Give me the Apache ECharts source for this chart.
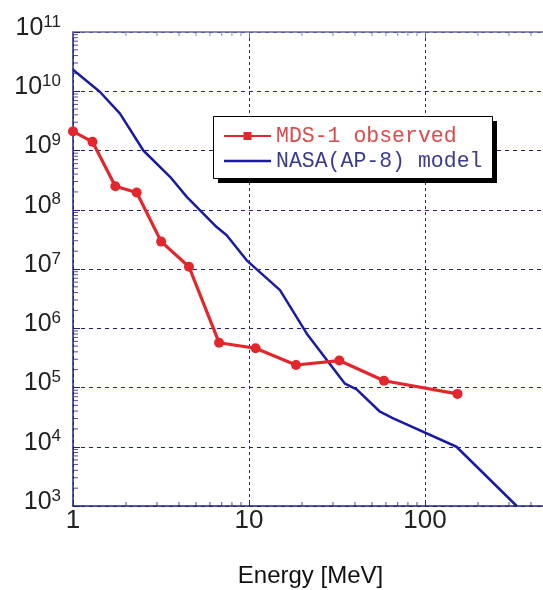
<!DOCTYPE html>
<html>
<head>
<meta charset="utf-8">
<script src="https://cdn.jsdelivr.net/npm/echarts@6/dist/echarts.min.js"></script>
<style>
  html, body { margin: 0; padding: 0; background: #fff; }
  #chart { width: 543px; height: 590px; }
</style>
</head>
<body>
<div id="chart"></div>
<script>
// MDS-1 observed spectrum
const mdsEnergy = [1, 1.29, 1.74, 2.3, 3.17, 4.56, 6.76, 10.9, 18.5, 32.6, 58.5, 153];
const mdsFlux = [2.1e9, 1.4e9, 2.5e8, 1.96e8, 2.9e7, 1.09e7, 5.7e5, 4.6e5, 2.4e5, 2.85e5, 1.3e5, 7.8e4];

// NASA AP-8 model
const apEnergy = [1, 1.42, 1.85, 2.51, 3.56, 4.43, 6.55, 7.47, 9.7, 15, 21.3, 35.1, 40.9, 55.5, 66, 151, 332];
const apFlux = [2.3e10, 9.8e9, 4.2e9, 1.0e9, 3.6e8, 1.65e8, 5.1e7, 3.7e7, 1.4e7, 4.4e6, 8.1e5, 1.16e5, 9.3e4, 3.9e4, 3.0e4, 1.0e4, 1.0e3];

// axis decoration
const xDecades = [1, 10, 100];
const yDecades = [1e3, 1e4, 1e5, 1e6, 1e7, 1e8, 1e9, 1e10];
const minorSteps = [2, 3, 4, 5, 6, 7, 8, 9];

const navy = '#22227f';
const red = '#e3262b';
const blue = '#1a1aa6';

let yMinor = [], xMinor = [], xMinorTop = [];
yDecades.forEach(d => minorSteps.forEach(k => yMinor.push([1, k * d])));
xDecades.forEach(d => minorSteps.forEach(k => {
  if (k * d < 500) {
    xMinor.push([k * d, 1e3]);
    xMinorTop.push([k * d, 1e11]);
  }
}));

let client = document.getElementById('chart');
let myChart = echarts.init(client);

let option = {
  backgroundColor: '#fff',
  animation: false,
  grid: { left: 73, top: 32, width: 475, height: 474, outerBoundsMode: 'none', containLabel: false },
  // legend frame with hard drop shadow
  graphic: [{
    type: 'rect',
    left: 218,
    top: 121,
    z: 8,
    shape: { width: 279, height: 62 },
    style: { fill: '#000' }
  }, {
    type: 'rect',
    left: 213,
    top: 116,
    z: 8,
    shape: { width: 279, height: 62 },
    style: { fill: '#fff', stroke: '#000', lineWidth: 1 }
  }],
  legend: {
    orient: 'vertical',
    left: 213,
    top: 116,
    z: 10,
    padding: [9, 14, 9, 10],
    itemGap: 3,
    itemWidth: 47,
    itemHeight: 10,
    selectedMode: false,
    textStyle: { fontFamily: 'Liberation Mono', fontSize: 21.5 },
    data: [
      { name: 'MDS-1 observed', textStyle: { color: '#e0484b' } },
      { name: 'NASA(AP-8) model', icon: 'path://M0,0 L47,0 L47,2.5 L0,2.5 Z', textStyle: { color: '#3b3b8f' } }
    ]
  },
  xAxis: [{
    type: 'log',
    logBase: 10,
    min: 1,
    max: 500,
    name: 'Energy [MeV]',
    nameLocation: 'middle',
    nameGap: 58,
    nameTextStyle: { fontFamily: 'Liberation Sans', fontSize: 24, color: '#111' },
    axisLine: { lineStyle: { color: navy, width: 1.5 } },
    axisTick: { inside: true, length: 6, lineStyle: { color: navy } },
    axisLabel: {
      margin: 2,
      fontFamily: 'Liberation Sans',
      fontSize: 26,
      color: '#222',
      formatter: v => (xDecades.indexOf(Math.round(v)) >= 0 ? String(Math.round(v)) : '')
    },
    splitLine: { show: true, lineStyle: { color: navy, type: [3, 3], width: 1 } }
  }, {
    type: 'log',
    logBase: 10,
    min: 1,
    max: 500,
    position: 'top',
    axisLine: { lineStyle: { color: '#6a6aae', width: 1.5 } },
    axisTick: { inside: true, length: 6, lineStyle: { color: '#6a6aae' } },
    axisLabel: { show: false },
    splitLine: { show: false }
  }],
  yAxis: {
    type: 'log',
    logBase: 10,
    min: 1e3,
    max: 1e11,
    splitNumber: 8,
    axisLine: { lineStyle: { color: navy, width: 1.5 } },
    axisTick: { inside: true, length: 7, lineStyle: { color: navy } },
    axisLabel: {
      margin: 12,
      color: '#222',
      formatter: v => '{b|10}{e|' + Math.round(Math.log10(v)) + '}',
      rich: {
        b: { fontFamily: 'Liberation Sans', fontSize: 25, color: '#222', padding: [0, 0, 8, 0] },
        e: { fontFamily: 'Liberation Sans', fontSize: 17, color: '#222', padding: [0, 0, 20, 0] }
      }
    },
    splitLine: { show: true, lineStyle: { color: navy, type: [4, 4], width: 1 } }
  },
  series: [{
    // legend icon holder (square marker)
    name: 'MDS-1 observed',
    type: 'line',
    symbol: 'rect',
    data: [],
    itemStyle: { color: red },
    lineStyle: { color: red, width: 3 }
  }, {
    name: 'MDS-1 observed',
    type: 'line',
    data: mdsEnergy.map((e, i) => [e, mdsFlux[i]]),
    symbol: 'circle',
    symbolSize: 10,
    showAllSymbol: true,
    clip: false,
    z: 4,
    itemStyle: { color: red },
    lineStyle: { color: red, width: 3.2 }
  }, {
    name: 'NASA(AP-8) model',
    type: 'line',
    data: apEnergy.map((e, i) => [e, apFlux[i]]),
    symbol: 'none',
    z: 3,
    itemStyle: { color: blue },
    lineStyle: { color: blue, width: 2.5 }
  }, {
    type: 'scatter',
    data: yMinor,
    symbol: 'rect',
    symbolSize: [5, 1],
    symbolOffset: [2.5, 0],
    clip: false,
    silent: true,
    itemStyle: { color: navy }
  }, {
    type: 'scatter',
    data: xMinor,
    symbol: 'rect',
    symbolSize: [1, 4],
    symbolOffset: [0, -2],
    clip: false,
    silent: true,
    itemStyle: { color: navy }
  }, {
    type: 'scatter',
    data: xMinorTop,
    symbol: 'rect',
    symbolSize: [1, 4],
    symbolOffset: [0, 2],
    clip: false,
    silent: true,
    itemStyle: { color: '#6a6aae' }
  }]
};

myChart.setOption(option);
</script>
</body>
</html>
